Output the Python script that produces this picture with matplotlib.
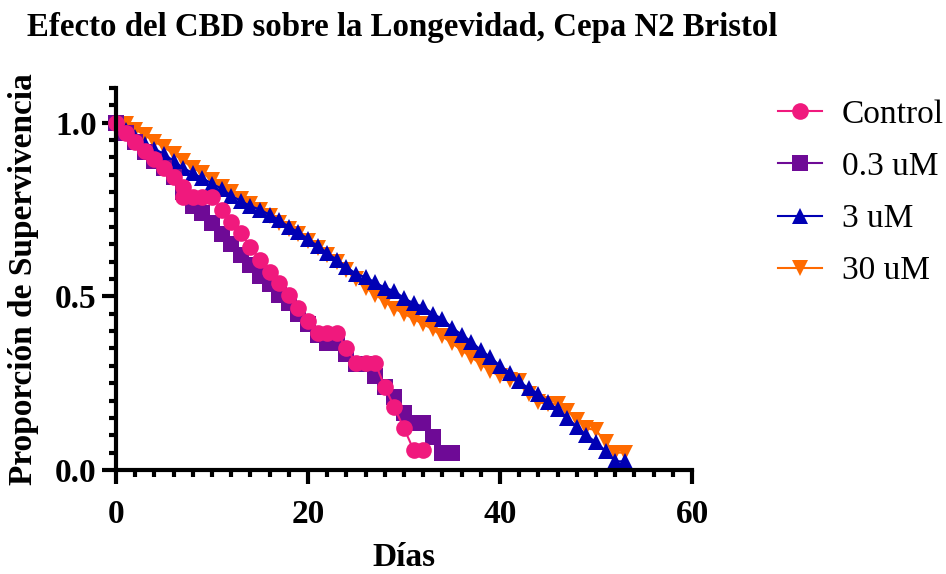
import matplotlib
matplotlib.use("Agg")
import matplotlib.pyplot as plt
from matplotlib.ticker import MultipleLocator

plt.rcParams["font.family"] = ["Liberation Serif", "DejaVu Serif"]

# survival data (day, fraction alive)
control_days = [0, 1, 2, 3, 4, 5, 6, 7, 7, 8, 9, 10, 11, 12, 13, 14, 15, 16, 17, 18,
                19, 20, 21, 22, 23, 24, 25, 26, 27, 28, 29, 30, 31, 32]
control_surv = [1.0, 0.97, 0.945, 0.92, 0.895, 0.87, 0.845, 0.816, 0.787, 0.787, 0.787,
                0.787, 0.75, 0.715, 0.683, 0.643, 0.605, 0.57, 0.539, 0.504, 0.467,
                0.43, 0.395, 0.395, 0.395, 0.352, 0.308, 0.308, 0.308, 0.24, 0.18,
                0.12, 0.058, 0.058]

low_days = list(range(0, 36))
low_surv = [1.0, 0.97, 0.945, 0.915, 0.89, 0.87, 0.845, 0.80, 0.76, 0.74, 0.71, 0.68,
            0.65, 0.62, 0.59, 0.56, 0.535, 0.505, 0.48, 0.45, 0.42, 0.39, 0.365,
            0.365, 0.335, 0.305, 0.305, 0.27, 0.24, 0.21, 0.165, 0.135, 0.135,
            0.095, 0.049, 0.049]

mid_days = list(range(0, 54))
mid_surv = [1.0, 0.98, 0.96, 0.94, 0.925, 0.91, 0.89, 0.87, 0.855, 0.84, 0.825, 0.81,
            0.79, 0.775, 0.76, 0.75, 0.735, 0.72, 0.70, 0.685, 0.665, 0.645, 0.625,
            0.605, 0.585, 0.565, 0.555, 0.54, 0.525, 0.515, 0.495, 0.48, 0.47, 0.45,
            0.435, 0.41, 0.39, 0.37, 0.345, 0.325, 0.30, 0.28, 0.255, 0.235, 0.22,
            0.195, 0.175, 0.15, 0.125, 0.10, 0.08, 0.055, 0.025, 0.025]

high_days = list(range(0, 54))
high_surv = [1.0, 0.995, 0.98, 0.965, 0.945, 0.93, 0.91, 0.89, 0.87, 0.855, 0.835,
             0.815, 0.80, 0.78, 0.765, 0.75, 0.73, 0.71, 0.695, 0.68, 0.66, 0.64,
             0.62, 0.60, 0.575, 0.55, 0.525, 0.505, 0.485, 0.465, 0.45, 0.435, 0.42,
             0.405, 0.385, 0.365, 0.345, 0.325, 0.305, 0.285, 0.27, 0.26, 0.255,
             0.22, 0.195, 0.19, 0.19, 0.17, 0.145, 0.12, 0.115, 0.08, 0.05, 0.05]

series = [
    ("30 uM", high_days, high_surv, "#FF6A00", "v", 12),
    ("3 uM", mid_days, mid_surv, "#0000B4", "^", 12),
    ("0.3 uM", low_days, low_surv, "#6E0A96", "s", 11),
    ("Control", control_days, control_surv, "#F0197D", "o", 12),
]

fig = plt.figure(figsize=(9.46, 5.74), dpi=100)
ax = fig.add_axes([116 / 946, 1 - 470 / 574, 576 / 946, 382 / 574])

handles = {}
for label, x, y, color, marker, ms in series:
    (h,) = ax.plot(x, y, color=color, marker=marker, markersize=ms, lw=1.5,
                   markeredgewidth=0, label=label, clip_on=False)
    handles[label] = h

ax.set_xlim(0, 60)
ax.set_ylim(0, 1.1)
ax.xaxis.set_major_locator(MultipleLocator(20))
ax.xaxis.set_minor_locator(MultipleLocator(2))
ax.yaxis.set_major_locator(MultipleLocator(0.5))
ax.yaxis.set_minor_locator(MultipleLocator(0.05))
ax.yaxis.set_major_formatter(plt.FormatStrFormatter("%.1f"))

for side in ("top", "right"):
    ax.spines[side].set_visible(False)
for side in ("left", "bottom"):
    ax.spines[side].set_linewidth(3)
ax.tick_params(which="major", length=10, width=3, direction="out", labelsize=24)
ax.tick_params(axis="x", which="major", pad=11)
ax.tick_params(axis="y", which="major", pad=4)
ax.tick_params(which="minor", length=5, width=3, direction="out")
for lbl in ax.get_xticklabels() + ax.get_yticklabels():
    lbl.set_fontweight("bold")

ax.set_xlabel("Días", fontsize=24, fontweight="bold")
ax.set_ylabel("Proporción de Supervivencia", fontsize=24, fontweight="bold")
ax.xaxis.set_label_coords(0.5, (470 - 542) / 382)
ax.yaxis.set_label_coords((39 - 116) / 576, 0.5)

fig.text(27 / 946, 1 - 12 / 574, "Efecto del CBD sobre la Longevidad, Cepa N2 Bristol",
         fontsize=23.7, fontweight="bold", va="top", ha="left")

order = ["Control", "0.3 uM", "3 uM", "30 uM"]
ax.legend([handles[k] for k in order], order, loc="upper left",
          bbox_to_anchor=(765 / 946, 1 - 86 / 574), bbox_transform=fig.transFigure,
          frameon=False, fontsize=24, handlelength=1.3, handletextpad=0.6,
          labelspacing=0.65, borderaxespad=0)

fig.savefig("out.png", dpi=100)
